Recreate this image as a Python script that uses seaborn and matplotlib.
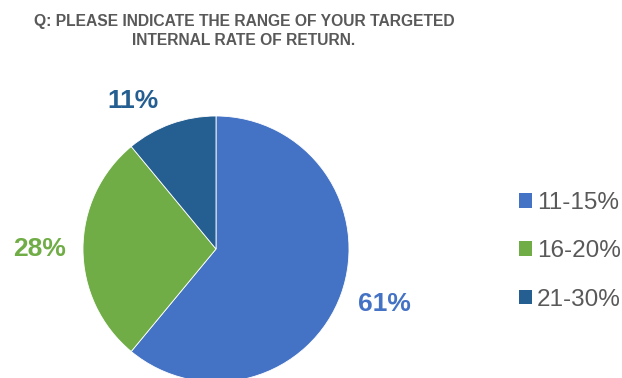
import matplotlib
matplotlib.use("Agg")
import matplotlib.pyplot as plt
from matplotlib.patches import Patch
import seaborn as sns

categories = ["11-15%", "16-20%", "21-30%"]
shares = [61, 28, 11]
colors = ["#4472C4", "#70AD47", "#255E91"]
title = "Q: PLEASE INDICATE THE RANGE OF YOUR TARGETED\nINTERNAL RATE OF RETURN."

sns.set_theme(style="white")
plt.rcParams["font.family"] = ["Liberation Sans", "DejaVu Sans"]

fig = plt.figure(figsize=(6.22, 3.78), dpi=100)
fig.patch.set_facecolor("white")

W, H = 622, 378
cx, cy, r = 216, 249, 133
ax = fig.add_axes([(cx - r) / W, (H - cy - r) / H, 2 * r / W, 2 * r / H])

wedges, _ = ax.pie(shares, colors=colors, startangle=90, counterclock=False,
                   radius=1.0, center=(0, 0),
                   wedgeprops=dict(linewidth=0.6, edgecolor="white"))
ax.set_xlim(-1, 1)
ax.set_ylim(-1, 1)
ax.set_aspect("equal")
ax.axis("off")
for w in wedges:
    w.set_clip_on(False)

# percentage labels outside the pie
label_pos = {"11-15%": (1.263, -0.414), "16-20%": (-1.323, 0.0), "21-30%": (-0.624, 1.113)}
for cat, val, col in zip(categories, shares, colors):
    x, y = label_pos[cat]
    ax.text(x, y, f"{val}%", color=col, fontsize=19, fontweight="bold",
            ha="center", va="center", clip_on=False)

fig.text(0.392, 0.918, title, ha="center", va="center", fontsize=11.25,
         fontweight="bold", color="#595959", linespacing=1.35)

handles = [Patch(facecolor=c, edgecolor="none") for c in colors]
leg = fig.legend(handles, categories, loc="center left",
                 bbox_to_anchor=(0.799, 0.335), frameon=False,
                 fontsize=17.5, handlelength=0.55, handleheight=0.55,
                 handletextpad=0.2, labelspacing=1.08)
for t in leg.get_texts():
    t.set_color("#595959")

fig.savefig("out.png", dpi=100, facecolor="white")
